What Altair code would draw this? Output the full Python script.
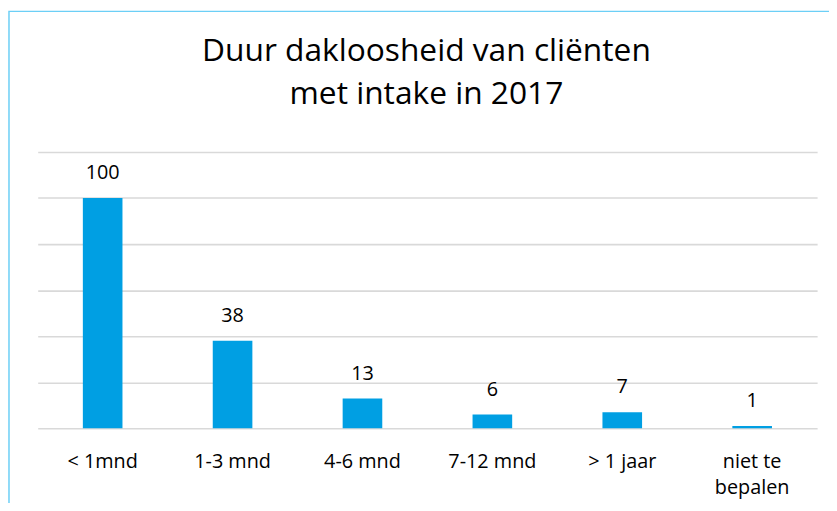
import altair as alt
import pandas as pd

categories = ["< 1mnd", "1-3 mnd", "4-6 mnd", "7-12 mnd", "> 1 jaar", "niet te bepalen"]
values = [100, 38, 13, 6, 7, 1]
grid_values = [0, 20, 40, 60, 80, 100, 120]
title_lines = ["Duur dakloosheid van cliënten", "met intake in 2017"]

df = pd.DataFrame({"cat": categories, "val": values})

FONT = "Open Sans"
BLUE = "#009FE3"
W, H = 787, 279

x = alt.X(
    "cat:N",
    sort=categories,
    title=None,
    scale=alt.Scale(paddingInner=0.695, paddingOuter=0.3475),
    axis=alt.Axis(
        labelAngle=0,
        labelFontSize=20,
        labelFont=FONT,
        labelColor="#000000",
        labelPadding=40,
        labelBaseline="alphabetic",
        ticks=False,
        domain=False,
        labelLineHeight=26,
        labelExpr="datum.label == 'niet te bepalen' ? ['niet te', 'bepalen'] : datum.label",
    ),
)
y = alt.Y(
    "val:Q",
    title=None,
    scale=alt.Scale(domain=[0, 120], nice=False),
    axis=alt.Axis(
        values=grid_values,
        labels=False,
        ticks=False,
        domain=False,
        grid=True,
        gridColor="#D9D9D9",
        gridWidth=1.6,
    ),
)

base = alt.Chart(df)
bars = base.mark_bar(color=BLUE).encode(x=x, y=y)
labels = base.mark_text(
    dy=-19, baseline="alphabetic", fontSize=20, font=FONT, color="#000000"
).encode(x=alt.X("cat:N", sort=categories), y="val:Q", text="val:Q")

one = pd.DataFrame({"a": [0]})
border = alt.Chart(one).mark_rect(
    fill=None, stroke="#6CCFF6", strokeWidth=1.5
).encode(
    x=alt.value(-29), x2=alt.value(W + 40), y=alt.value(-142), y2=alt.value(H + 120)
)
title1 = alt.Chart(one).mark_text(
    text=title_lines[0], fontSize=32, font=FONT, color="#000000",
    align="center", baseline="alphabetic",
).encode(x=alt.value(W / 2 - 1), y=alt.value(-92))
title2 = alt.Chart(one).mark_text(
    text=title_lines[1], fontSize=32, font=FONT, color="#000000",
    align="center", baseline="alphabetic",
).encode(x=alt.value(W / 2 - 1), y=alt.value(-48))

chart = (
    alt.layer(border, title1, title2, bars, labels)
    .properties(
        width=W,
        height=H,
        autosize=alt.AutoSizeParams(type="none"),
        padding={"left": 30, "top": 143, "right": 12, "bottom": 73},
    )
    .configure(background="white")
    .configure_view(stroke=None)
)

chart.save("out.html", embed_options={"renderer": "svg", "actions": False})
